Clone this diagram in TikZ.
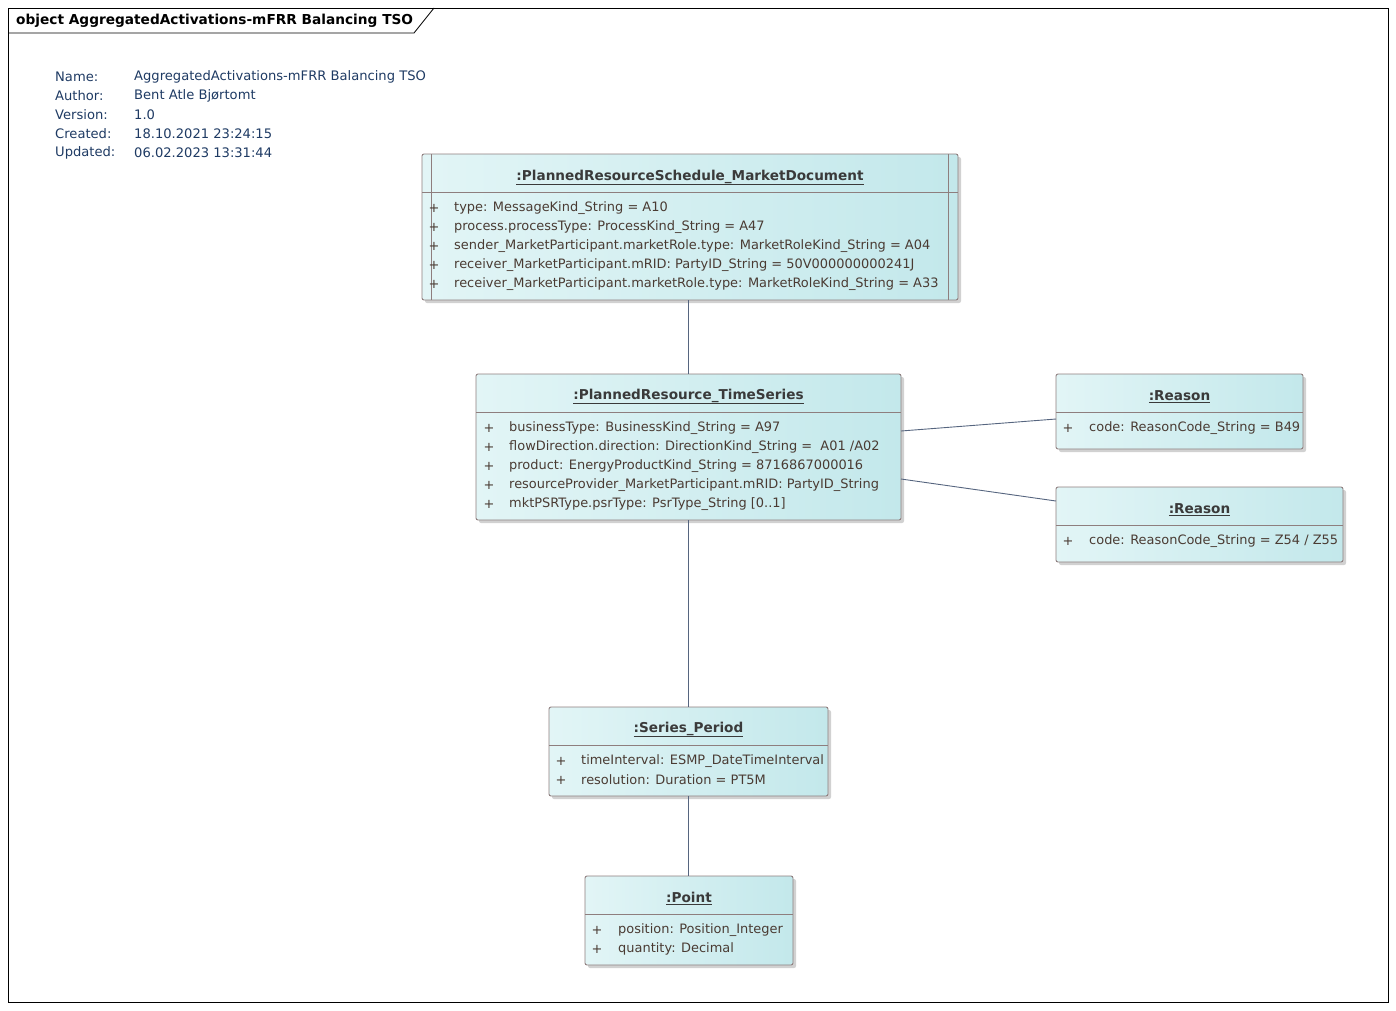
\documentclass[tikz,border=0pt]{standalone}
\usepackage{fontspec}
\setmainfont{DejaVu Sans}
\usetikzlibrary{shadows,calc}
\definecolor{boxL}{HTML}{E2F5F6}
\definecolor{boxR}{HTML}{C3E8EB}
\definecolor{boxBorder}{HTML}{8E7E7E}
\definecolor{attrText}{HTML}{4A3B33}
\definecolor{titleText}{HTML}{3A3A3A}
\definecolor{metaText}{HTML}{1E3A63}
\definecolor{linkCol}{HTML}{56657F}
\tikzset{
  umlbox/.style={draw=boxBorder, line width=0.9pt, rounded corners=2pt, left color=boxL, right color=boxR,
    anchor=north west, inner sep=0pt, outer sep=0pt,
    drop shadow={shadow xshift=3pt, shadow yshift=-3pt, fill=black!30, opacity=0.6}},
  divider/.style={draw=boxBorder, line width=0.9pt},
  boxtitle/.style={font=\fontsize{13.6}{16}\selectfont\bfseries, text=titleText, inner sep=0pt},
  attr/.style={font=\fontsize{12.95}{15}\selectfont, text=attrText, anchor=west, inner sep=0pt},
  plus/.style={font=\fontsize{12.95}{15}\selectfont, text=attrText, inner sep=0pt},
  meta/.style={font=\fontsize{13.1}{15}\selectfont, text=metaText, anchor=west, inner sep=0pt},
  link/.style={draw=linkCol, line width=0.9pt},
}
\newcommand{\ul}[1]{\underline{#1}}
\begin{document}
\begin{tikzpicture}[x=1pt,y=-1pt]
\useasboundingbox (0,0) rectangle (1396,1010);
% frame
\draw[black, line width=0.8pt] (8,8) rectangle (1388,1002);
\draw[black, line width=0.8pt] (8,33) -- (414,33) -- (434,8);
\node[anchor=west, inner sep=0pt, font=\fontsize{13.7}{16}\selectfont\bfseries] (frametitle) at (16,21) {object AggregatedActivations-mFRR Balancing TSO};
% metadata
\node[meta] (mn) at (55,77) {Name:};
\node[meta] (ma) at (55,96) {Author:};
\node[meta] (mv) at (55,115) {Version:};
\node[meta] (mc) at (55,134) {Created:};
\node[meta] (mu) at (55,153) {Updated:};
\node[meta] (vn) at (134,77) {AggregatedActivations-mFRR Balancing TSO};
\node[meta] (va) at (134,96) {Bent Atle Bjørtomt};
\node[meta] (vv) at (134,115) {1.0};
\node[meta] (vc) at (134,134) {18.10.2021 23:24:15};
\node[meta] (vu) at (134,153) {06.02.2023 13:31:44};

% boxes
\node[umlbox, minimum width=536pt, minimum height=146pt] (doc) at (422,154) {};
\node[umlbox, minimum width=425pt, minimum height=146pt] (ts) at (476,374) {};
\node[umlbox, minimum width=247pt, minimum height=75pt] (r1) at (1056,374) {};
\node[umlbox, minimum width=287pt, minimum height=75pt] (r2) at (1056,487) {};
\node[umlbox, minimum width=279pt, minimum height=89pt] (sp) at (549,707) {};
\node[umlbox, minimum width=208pt, minimum height=89pt] (pt) at (585,876) {};

\draw[link] (ts.north) -- (ts.north |- doc.south);
\draw[link] (ts.south) -- (ts.south |- sp.north);
\draw[link] (sp.south) -- (sp.south |- pt.north);
\draw[link] ($(ts.north east)+(0,57)$) -- ($(r1.north west)+(0,45)$);
\draw[link] ($(ts.north east)+(0,105)$) -- ($(r2.north west)+(0,14)$);

% doc box
\draw[divider] (422,192) -- (958,192);
\draw[divider] (431,154) -- (431,300);
\draw[divider] (948,154) -- (948,300);
\node[boxtitle] (doct) at (690,177.5) {\ul{:PlannedResourceSchedule\_MarketDocument}};
\foreach \y/\t [count=\i] in {208/{type: MessageKind\_String = A10},
  227/{process.processType: ProcessKind\_String = A47},
  246/{sender\_MarketParticipant.marketRole.type: MarketRoleKind\_String = A04},
  265/{receiver\_MarketParticipant.mRID: PartyID\_String = 50V000000000241J},
  284/{receiver\_MarketParticipant.marketRole.type: MarketRoleKind\_String = A33}} {
  \node[plus] (dp\i) at (434,\y) {+};
  \node[attr] (da\i) at (454,\y) {\t};
}
% ts box
\draw[divider] (476,412) -- (901,412);
\node[boxtitle] (tst) at (688.5,396.5) {\ul{:PlannedResource\_TimeSeries}};
\foreach \y/\t [count=\i] in {428/{businessType: BusinessKind\_String = A97},
  447/{flowDirection.direction: DirectionKind\_String =\ \ A01 /A02},
  466/{product: EnergyProductKind\_String = 8716867000016},
  485/{resourceProvider\_MarketParticipant.mRID: PartyID\_String},
  504/{mktPSRType.psrType: PsrType\_String [0..1]}} {
  \node[plus] (tp\i) at (489,\y) {+};
  \node[attr] (ta\i) at (509,\y) {\t};
}
% reason 1
\draw[divider] (1056,412) -- (1303,412);
\node[boxtitle] (r1t) at (1179.5,396.5) {\ul{:Reason}};
\node[plus] (r1p) at (1068,428) {+};
\node[attr] (r1a) at (1089,428) {code: ReasonCode\_String = B49};
% reason 2
\draw[divider] (1056,525) -- (1343,525);
\node[boxtitle] (r2t) at (1199.5,509.5) {\ul{:Reason}};
\node[plus] (r2p) at (1068,541) {+};
\node[attr] (r2a) at (1089,541) {code: ReasonCode\_String = Z54 / Z55};
% series period
\draw[divider] (549,745) -- (828,745);
\node[boxtitle] (spt) at (688.5,729.5) {\ul{:Series\_Period}};
\node[plus] (spp1) at (561,761) {+};
\node[attr] (spa1) at (581,761) {timeInterval: ESMP\_DateTimeInterval};
\node[plus] (spp2) at (561,780) {+};
\node[attr] (spa2) at (581,780) {resolution: Duration = PT5M};
% point
\draw[divider] (585,914) -- (793,914);
\node[boxtitle] (ptt) at (689,898.5) {\ul{:Point}};
\node[plus] (ptp1) at (597,930) {+};
\node[attr] (pta1) at (618,930) {position: Position\_Integer};
\node[plus] (ptp2) at (597,949) {+};
\node[attr] (pta2) at (618,949) {quantity: Decimal};
\end{tikzpicture}
\end{document}
